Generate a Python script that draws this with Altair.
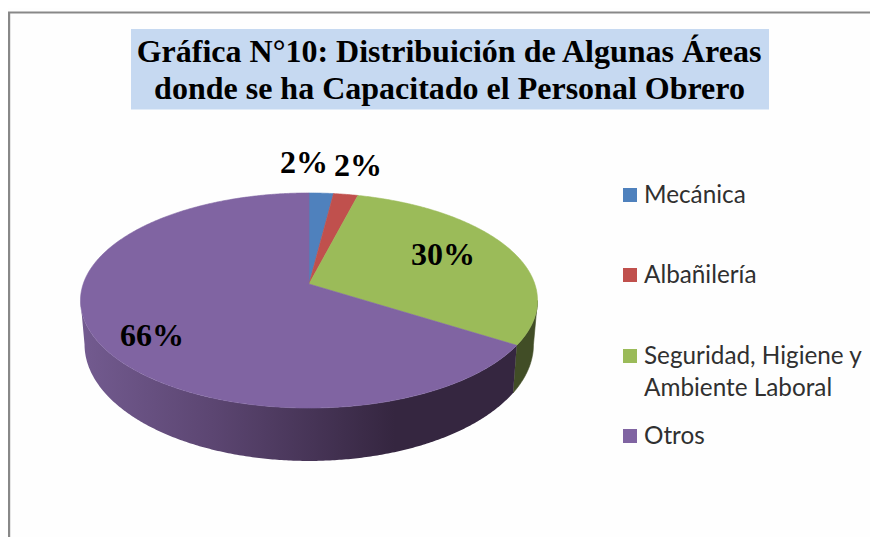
import numpy as np
import pandas as pd
import altair as alt

# ---- chart values ----
categories = ["Mecánica", "Albañilería", "Seguridad, Higiene y Ambiente Laboral", "Otros"]
shares = [2, 2, 30, 66]
share_labels = ["2%", "2%", "30%", "66%"]
title_lines = ["Gráfica N°10: Distribuición de Algunas Áreas",
               "donde se ha Capacitado el Personal Obrero"]
legend_lines = [["Mecánica"], ["Albañilería"], ["Seguridad, Higiene y", "Ambiente Laboral"], ["Otros"]]

# ---- styles / layout (page pixels) ----
top_colors = ["#4f81bd", "#c0504d", "#9bbb59", "#8064a2"]
W, H = 862, 529
X0, Y0 = 8, 8
xs = alt.Scale(domain=[X0, X0 + W], range=[0, W], nice=False, zero=False, clamp=False)
ys = alt.Scale(domain=[Y0, Y0 + H], range=[0, H], nice=False, zero=False)
xq = lambda f: alt.X(f, type="quantitative", scale=xs, axis=None)
yq = lambda f: alt.Y(f, type="quantitative", scale=ys, axis=None)
x2q = lambda f: alt.X2(f)
y2q = lambda f: alt.Y2(f)

CX = 309
TOP = dict(cy=284.0, a=225.8, b=105.0)
BOT = dict(cy=326.5, a=221.8, b=113.8)
PERSP = 0.1535
SIDE_TANGENT = np.degrees(np.arccos(-PERSP))  # angle where the pie's outline is widest


def project(deg, face):
    t = np.radians(deg)
    u, v = np.sin(t), np.cos(t)
    d = 1 + PERSP * v
    return CX + face["a"] * u / d, face["cy"] - face["b"] * v / d


def poly_line(df, fill):
    return alt.Chart(df).mark_line(fill=fill, stroke=None if not isinstance(fill, str) else fill,
                                   strokeWidth=0.6, interpolate="linear", clip=False).encode(
        x=xq("x"), y=yq("y"), order=alt.Order("i:Q"))


edges = np.cumsum([0] + shares) * 3.6


def wedge(a0, a1):
    t = np.linspace(a0, a1, max(int(a1 - a0) * 2, 4))
    x, y = project(t, TOP)
    x = np.r_[CX, x, CX]
    y = np.r_[TOP["cy"], y, TOP["cy"]]
    return pd.DataFrame({"x": x, "y": y, "i": np.arange(len(x))})


def wall(a0, a1):
    t = np.linspace(a0, a1, max(int(a1 - a0) * 2, 4))
    x1, y1 = project(t, TOP)
    x2, y2 = project(t[::-1], BOT)
    x = np.r_[x1, x2, x1[0]]
    y = np.r_[y1, y2, y1[0]]
    return pd.DataFrame({"x": x, "y": y, "i": np.arange(len(x))})


purple_gradient = alt.LinearGradient(
    gradient="linear", x1=0, y1=0, x2=1, y2=0,
    stops=[alt.GradientStop(offset=0.0, color="#735b90"),
           alt.GradientStop(offset=0.30, color="#5c4672"),
           alt.GradientStop(offset=0.72, color="#352640"),
           alt.GradientStop(offset=1.0, color="#352640")])

layers = []

# frame
layers.append(alt.Chart(pd.DataFrame({"x": [9], "y": [12], "y2": [537]})).mark_rule(
    color="#888888", strokeWidth=2.4).encode(x=xq("x"), y=yq("y"), y2=y2q("y2")))
layers.append(alt.Chart(pd.DataFrame({"x": [8], "x2": [878], "y": [12.5]})).mark_rule(
    color="#888888", strokeWidth=2).encode(x=xq("x"), x2=x2q("x2"), y=yq("y")))

# title band and title
layers.append(alt.Chart(pd.DataFrame({"x": [131], "x2": [769], "y": [29], "y2": [109.5]})).mark_rect(
    color="#c6d9f1").encode(x=xq("x"), x2=x2q("x2"), y=yq("y"), y2=y2q("y2")))
layers.append(alt.Chart(pd.DataFrame({"t": title_lines, "x": [449, 449.5], "y": [62, 99]})).mark_text(
    font="Liberation Serif", fontWeight="bold", fontSize=32, align="center", baseline="alphabetic",
    color="#000000").encode(x=xq("x"), y=yq("y"), text="t:N"))

# side walls (front side of the pie), then the top face
layers.append(poly_line(wall(SIDE_TANGENT, edges[3]), "#414d26"))
layers.append(poly_line(wall(edges[3], 360 - SIDE_TANGENT), purple_gradient))
for k in range(len(shares)):
    layers.append(poly_line(wedge(edges[k], edges[k + 1]), top_colors[k]))

# percentage labels
label_x = [304, 358, 443, 152]
label_y = [173, 176, 265, 346]
layers.append(alt.Chart(pd.DataFrame({"t": share_labels, "x": label_x, "y": label_y})).mark_text(
    font="Liberation Serif", fontWeight="bold", fontSize=32, align="center", baseline="alphabetic",
    color="#000000").encode(x=xq("x"), y=yq("y"), text="t:N"))

# legend
swatch_y = [195, 275, 356, 436]
line_step = 32
text_rows = []
for cy, lines in zip(swatch_y, legend_lines):
    for j, line in enumerate(lines):
        text_rows.append({"t": line, "x": 644, "y": cy + 8 + j * line_step})
layers.append(alt.Chart(pd.DataFrame({"cat": categories, "x": [630] * 4, "y": swatch_y})).mark_square(
    size=196, opacity=1, filled=True).encode(
    x=xq("x"), y=yq("y"),
    color=alt.Color("cat:N", scale=alt.Scale(domain=categories, range=top_colors), legend=None)))
layers.append(alt.Chart(pd.DataFrame(text_rows)).mark_text(
    font="Lato", fontSize=24.3, align="left", baseline="alphabetic", color="#303030").encode(
    x=xq("x"), y=yq("y"), text="t:N"))

chart = alt.layer(*layers).properties(
    width=W, height=H, background="#fefefe", padding=0,
    autosize=alt.AutoSizeParams(type="none"),
).configure_view(stroke=None)

chart.save("out.html", embed_options={"renderer": "svg", "actions": False})
